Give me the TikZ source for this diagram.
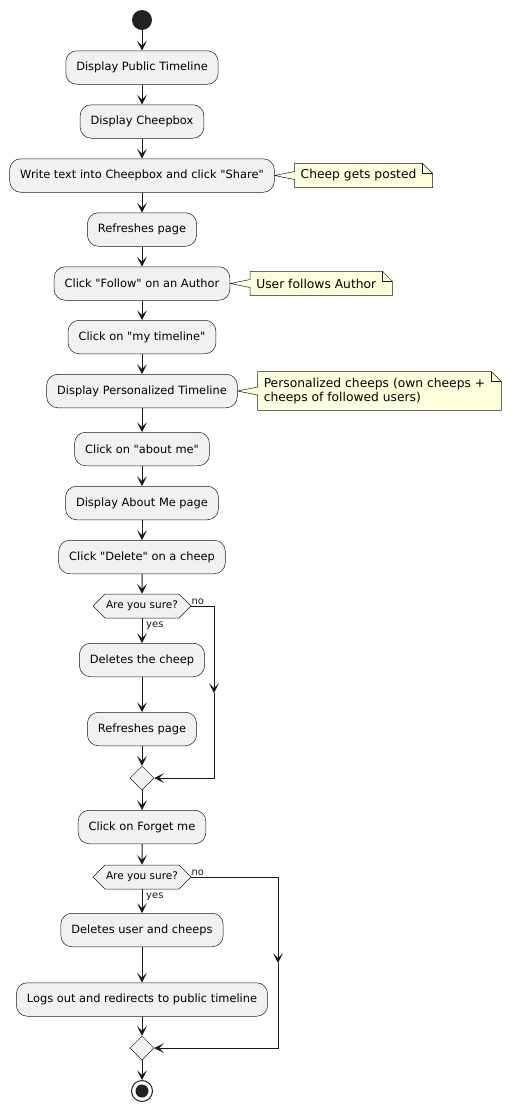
\documentclass[tikz,border=0pt]{standalone}
\usepackage{fontspec}
\setmainfont{DejaVu Sans}
\usepackage{xcolor}
\usepackage{tikz}
\usetikzlibrary{arrows.meta}
\usetikzlibrary{positioning}
\usetikzlibrary{shapes.geometric}
\usetikzlibrary{shapes.symbols}
\usetikzlibrary{backgrounds}
\definecolor{actbg}{HTML}{F1F1F1}
\definecolor{linecol}{HTML}{181818}
\definecolor{notebg}{HTML}{FEFFDD}
\definecolor{startcol}{HTML}{222222}
\newcommand{\actfont}{\fontsize{11.4pt}{13.7pt}\selectfont}
\newcommand{\notefont}{\fontsize{12.3pt}{14.5pt}\selectfont}
\newcommand{\decfont}{\fontsize{10.5pt}{12pt}\selectfont}
\newcommand{\lblfont}{\fontsize{10pt}{12pt}\selectfont}
\newcommand{\qq}{\textquotedbl}
\tikzset{
  act/.style={draw=linecol, line width=0.5pt, fill=actbg, rounded corners=11pt,
    minimum height=33.5pt, inner xsep=10.5pt, font=\actfont},
  dec/.style={signal, signal to=west and east, draw=linecol, line width=0.5pt,
    fill=actbg, font=\decfont, inner xsep=1pt, inner ysep=0pt, minimum height=24pt},
  merge/.style={diamond, draw=linecol, line width=0.5pt, fill=actbg,
    minimum size=24pt, inner sep=0pt},
  flow/.style={draw=linecol, line width=1pt, -{Stealth[length=9.5pt,width=9.5pt,inset=4.5pt]}},
  notetext/.style={font=\notefont, align=left, inner xsep=6pt, inner ysep=6pt,
    minimum height=24pt},
  noteline/.style={draw=linecol, line width=0.5pt},
  lbl/.style={font=\lblfont, inner sep=0pt, text=linecol}
}
% note #1 hangs on box #2
\newcommand{\notedraw}[2]{%
  \begin{scope}[on background layer]
    \draw[noteline, fill=notebg] (#1.north west) -- (#1.north east)
      -- ([xshift=10pt,yshift=-10pt]#1.north east) -- ([xshift=10pt]#1.south east)
      -- (#1.south west) -- ([yshift=-4pt]#1.west) -- (#2.east)
      -- ([yshift=4pt]#1.west) -- cycle;
    \draw[noteline] (#1.north east) -- ([yshift=-10pt]#1.north east)
      -- ([xshift=10pt,yshift=-10pt]#1.north east);
  \end{scope}}

\begin{document}
\begin{tikzpicture}[x=1pt, y=-1pt]
\useasboundingbox (0,0) rectangle (517,1112);
\node[circle, fill=startcol, minimum size=20pt, inner sep=0pt] (start) at (142,20) {};
\node[act] (pubtl) at (142,67.5) {Display Public Timeline};
\node[act] (cheepbox) at (142,121.5) {Display Cheepbox};
\node[act] (share) at (142,175.5) {Write text into Cheepbox and click \qq Share\qq};
\node[notetext, right=20pt of share] (posted) {Cheep gets posted};
\notedraw{posted}{share}
\node[act] (refresh) at (142,229.5) {Refreshes page};
\node[act] (follow) at (142,283.5) {Click \qq Follow\qq{} on an Author};
\node[notetext, right=20pt of follow] (follows) {User follows Author};
\notedraw{follows}{follow}
\node[act] (mytl) at (142,337) {Click on \qq my timeline\qq};
\node[act] (perstl) at (142,391) {Display Personalized Timeline};
\node[notetext, right=20pt of perstl] (perscheeps) {Personalized cheeps (own cheeps +\\cheeps of followed users)};
\notedraw{perscheeps}{perstl}
\node[act] (aboutme) at (142,449) {Click on \qq about me\qq};
\node[act] (aboutpage) at (142,503) {Display About Me page};
\node[act] (delete) at (142,557) {Click \qq Delete\qq{} on a cheep};
\node[dec] (sure1) at (142,606) {Are you sure?};
\node[act] (delcheep) at (142,660) {Deletes the cheep};
\node[act] (refresh2) at (142,729) {Refreshes page};
\node[merge] (merge1) at (142,778) {};
\node[act] (forget) at (142,827) {Click on Forget me};
\node[dec] (sure2) at (142,877) {Are you sure?};
\node[act] (deluser) at (142,930) {Deletes user and cheeps};
\node[act] (logout) at (142,999.5) {Logs out and redirects to public timeline};
\node[merge] (merge2) at (142,1048) {};
\node[circle, draw=startcol, line width=1pt, minimum size=21pt, inner sep=0pt,
  path picture={\fill[startcol] (path picture bounding box.center) circle (6.5pt);}] (stop) at (142,1091) {};
\node[lbl, anchor=south west] (no1) at ([yshift=1.5pt]sure1.east) {no};
\node[lbl, anchor=north west] (yes1) at ([xshift=4pt,yshift=-3pt]sure1.south) {yes};
\node[lbl, anchor=south west] (no2) at ([yshift=1.5pt]sure2.east) {no};
\node[lbl, anchor=north west] (yes2) at ([xshift=4pt,yshift=-3pt]sure2.south) {yes};
\coordinate (nocorner1) at (214,606);
\coordinate (nomid1) at (214,693);
\coordinate (noend1) at (214,778);
\coordinate (nocorner2) at (278,877);
\coordinate (nomid2) at (278,963);
\coordinate (noend2) at (278,1048);
\draw[flow] (start) -- (pubtl);
\draw[flow] (pubtl) -- (cheepbox);
\draw[flow] (cheepbox) -- (share);
\draw[flow] (share) -- (refresh);
\draw[flow] (refresh) -- (follow);
\draw[flow] (follow) -- (mytl);
\draw[flow] (mytl) -- (perstl);
\draw[flow] (perstl) -- (aboutme);
\draw[flow] (aboutme) -- (aboutpage);
\draw[flow] (aboutpage) -- (delete);
\draw[flow] (delete) -- (sure1);
\draw[flow] (sure1) -- (delcheep);
\draw[flow] (delcheep) -- (refresh2);
\draw[flow] (refresh2) -- (merge1);
\draw[flow] (sure1.east) -- (nocorner1) -- (nomid1);
\draw[flow] (nomid1) -- (noend1) -- (merge1.east);
\draw[flow] (merge1) -- (forget);
\draw[flow] (forget) -- (sure2);
\draw[flow] (sure2) -- (deluser);
\draw[flow] (deluser) -- (logout);
\draw[flow] (logout) -- (merge2);
\draw[flow] (sure2.east) -- (nocorner2) -- (nomid2);
\draw[flow] (nomid2) -- (noend2) -- (merge2.east);
\draw[flow] (merge2) -- (stop);
\end{tikzpicture}
\end{document}
